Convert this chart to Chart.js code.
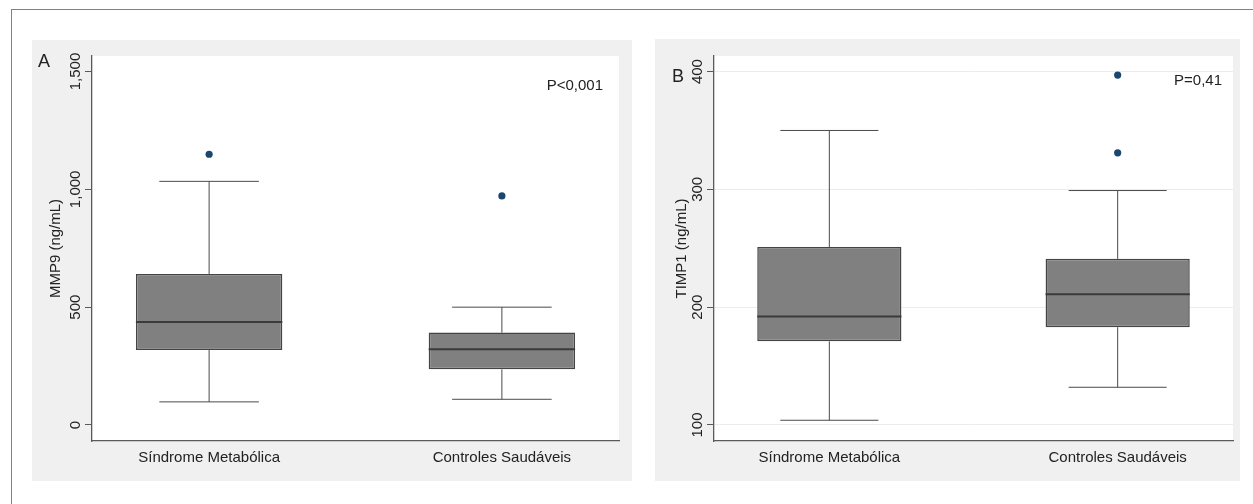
<!DOCTYPE html>
<html>
<head>
<meta charset="utf-8">
<script src="https://cdn.jsdelivr.net/npm/chart.js@4"></script>
<style>
  body { margin: 0; background: #fff; width: 1253px; height: 504px; position: relative; overflow: hidden; }
  #frame { position: absolute; left: 11px; top: 9px; right: -5px; bottom: -5px; border-top: 1.5px solid #808080; border-left: 1.5px solid #808080; }
  .panel { position: absolute; background: #f0f0f0; }
  #pa { left: 32px; top: 40px; width: 600px; height: 441px; }
  #pb { left: 655px; top: 39px; width: 585px; height: 442px; }
</style>
</head>
<body>
<div id="frame"></div>
<div class="panel" id="pa"><canvas id="chartA" width="600" height="441"></canvas></div>
<div class="panel" id="pb"><canvas id="chartB" width="585" height="442"></canvas></div>
<script>
var categories = ['Síndrome Metabólica', 'Controles Saudáveis'];

// MMP9 (ng/mL)
var mmpMin = [98, 109];
var mmpQ1 = [318, 236];
var mmpMedian = [437, 321];
var mmpQ3 = [641, 392];
var mmpMax = [1034, 500];
var mmpOutliers = [[1149], [972]];
var mmpTicks = [0, 500, 1000, 1500];

// TIMP1 (ng/mL)
var timpMin = [104, 132];
var timpQ1 = [171, 183];
var timpMedian = [192, 211];
var timpQ3 = [251, 241];
var timpMax = [350, 299];
var timpOutliers = [[], [397, 331]];
var timpTicks = [100, 200, 300, 400];

var font = '"Liberation Sans", Arial, sans-serif';
var textColor = '#222';

// white plot region, whiskers, caps, medians, rotated y labels and notes
var boxPlugin = {
  id: 'boxExtras',
  beforeDraw: function(chart) {
    var a = chart.chartArea, ctx = chart.ctx;
    ctx.save();
    ctx.fillStyle = '#fff';
    ctx.fillRect(a.left, a.top, a.right - a.left, a.bottom - a.top);
    ctx.restore();
  },
  afterDatasetsDraw: function(chart) {
    var o = chart.options.plugins.boxExtras;
    var x = chart.scales.x, y = chart.scales.y, ctx = chart.ctx;
    ctx.save();
    for (var i = 0; i < o.median.length; i++) {
      var cx = x.getPixelForValue(i + 1);
      var cap = x.getPixelForValue(i + 1 + 0.17) - cx;
      var half = x.getPixelForValue(i + 1 + 0.25) - cx;
      ctx.strokeStyle = '#4a4a4a';
      ctx.lineWidth = 1;
      ctx.beginPath();
      ctx.moveTo(cx, y.getPixelForValue(o.q3[i]));
      ctx.lineTo(cx, y.getPixelForValue(o.max[i]));
      ctx.moveTo(cx - cap, y.getPixelForValue(o.max[i]));
      ctx.lineTo(cx + cap, y.getPixelForValue(o.max[i]));
      ctx.moveTo(cx, y.getPixelForValue(o.q1[i]));
      ctx.lineTo(cx, y.getPixelForValue(o.min[i]));
      ctx.moveTo(cx - cap, y.getPixelForValue(o.min[i]));
      ctx.lineTo(cx + cap, y.getPixelForValue(o.min[i]));
      ctx.stroke();
      ctx.strokeStyle = '#3a3a3a';
      ctx.lineWidth = 2;
      ctx.beginPath();
      ctx.moveTo(cx - half, y.getPixelForValue(o.median[i]));
      ctx.lineTo(cx + half, y.getPixelForValue(o.median[i]));
      ctx.stroke();
    }
    ctx.restore();
  },
  afterDraw: function(chart) {
    var o = chart.options.plugins.boxExtras;
    var y = chart.scales.y, ctx = chart.ctx, area = chart.chartArea;
    ctx.save();
    ctx.fillStyle = textColor;
    ctx.font = '15px ' + font;
    ctx.textAlign = 'center';
    ctx.textBaseline = 'middle';
    y.ticks.forEach(function(t) {
      ctx.save();
      ctx.translate(area.left - 16, y.getPixelForValue(t.value));
      ctx.rotate(-Math.PI / 2);
      ctx.fillText(t.value.toLocaleString('en-US'), 0, 0);
      ctx.restore();
    });
    ctx.textBaseline = 'alphabetic';
    ctx.textAlign = 'right';
    ctx.fillText(o.note, area.right - o.noteRight, o.noteY);
    ctx.textAlign = 'left';
    ctx.font = '18px ' + font;
    ctx.fillText(o.letter, o.letterX, o.letterY);
    ctx.restore();
  }
};

function makeChart(id, d) {
  var boxes = d.q1.map(function(v, i) { return { x: i + 1, y: [v, d.q3[i]] }; });
  var outs = [];
  d.outliers.forEach(function(list, i) {
    list.forEach(function(v) { outs.push({ x: i + 1, y: v }); });
  });
  return new Chart(document.getElementById(id), {
    type: 'bar',
    data: {
      datasets: [{
        type: 'bar',
        data: boxes,
        backgroundColor: '#808080',
        borderColor: '#444',
        borderWidth: 1.5,
        borderSkipped: false,
        categoryPercentage: 1,
        barPercentage: 0.5
      }, {
        type: 'scatter',
        data: outs,
        backgroundColor: '#1a476f',
        borderWidth: 0,
        pointRadius: 3.6
      }]
    },
    options: {
      responsive: false,
      animation: false,
      layout: { padding: { left: 0, top: d.padTop, right: d.padRight, bottom: 0 } },
      plugins: {
        legend: { display: false },
        tooltip: { enabled: false },
        boxExtras: {
          min: d.min, q1: d.q1, median: d.median, q3: d.q3, max: d.max,
          note: d.note, noteRight: d.noteRight, noteY: d.noteY,
          letter: d.letter, letterX: d.letterX, letterY: d.letterY
        }
      },
      scales: {
        x: {
          type: 'linear',
          min: 0.6,
          max: 2.4,
          offset: false,
          grid: { display: false, drawTicks: false },
          border: { display: true, color: '#5a5a5a', width: 1.3 },
          afterBuildTicks: function(s) { s.ticks = categories.map(function(c, i) { return { value: i + 1 }; }); },
          afterFit: function(s) { s.height = 40; },
          ticks: {
            padding: 8,
            color: textColor,
            font: { family: font, size: 15 },
            callback: function(v) { return categories[v - 1]; }
          }
        },
        y: {
          min: d.yMin,
          max: d.yMax,
          afterBuildTicks: function(s) { s.ticks = d.ticks.map(function(v) { return { value: v }; }); },
          afterFit: function(s) { s.width = d.axisWidth; },
          grid: {
            display: true,
            drawOnChartArea: d.gridLines,
            color: '#ececec',
            tickColor: '#5a5a5a',
            tickLength: 7
          },
          border: { display: true, color: '#5a5a5a', width: 1.3 },
          ticks: { display: false },
          title: {
            display: true,
            text: d.title,
            color: textColor,
            font: { family: font, size: 15 },
            padding: { top: d.titlePad, bottom: 0 }
          }
        }
      }
    },
    plugins: [boxPlugin]
  });
}

makeChart('chartA', {
  min: mmpMin, q1: mmpQ1, median: mmpMedian, q3: mmpQ3, max: mmpMax, outliers: mmpOutliers,
  ticks: mmpTicks, yMin: -68, yMax: 1566, title: 'MMP9 (ng/mL)', gridLines: false,
  padTop: 16, padRight: 13, axisWidth: 60, titlePad: 15,
  note: 'P<0,001', noteRight: 16, noteY: 50, letter: 'A', letterX: 6, letterY: 27
});

makeChart('chartB', {
  min: timpMin, q1: timpQ1, median: timpMedian, q3: timpQ3, max: timpMax, outliers: timpOutliers,
  ticks: timpTicks, yMin: 86.4, yMax: 413.2, title: 'TIMP1 (ng/mL)', gridLines: true,
  padTop: 17, padRight: 7, axisWidth: 59, titlePad: 18,
  note: 'P=0,41', noteRight: 11, noteY: 46, letter: 'B', letterX: 17, letterY: 43
});
</script>
</body>
</html>
